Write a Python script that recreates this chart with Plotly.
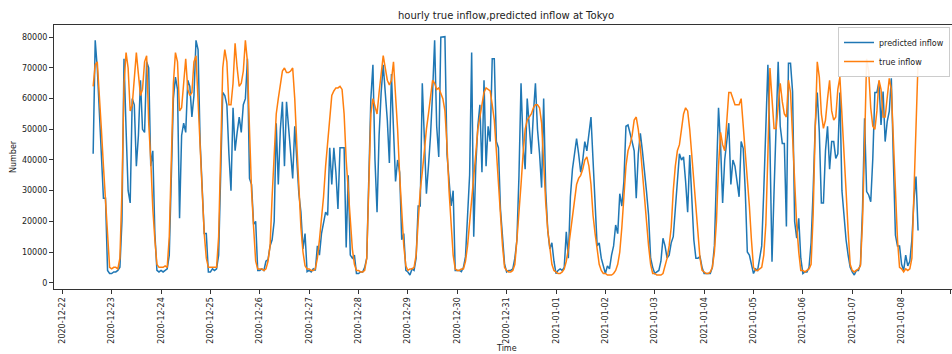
import pandas as pd
import plotly.graph_objects as go

# ---------------- data (values in thousands, hourly) ----------------
start_time = "2020-12-22 15:00"

true_inflow_k = [
    64, 71, 72, 62, 50, 38, 26, 13, 5,
    4.5, 5, 5, 4.5, 8, 30, 65, 75, 70, 56, 58, 68, 75, 68, 61, 63, 72, 74, 52, 40, 24, 14, 6, 5,
    5, 5, 5.5, 5, 15, 40, 65, 75, 72, 56, 57, 65, 73, 63, 61, 62, 72, 74, 58, 45, 30, 16, 8, 5,
    5, 5, 5, 5, 15, 45, 70, 76, 72, 58, 58, 65, 78, 70, 64, 65, 69, 79, 72, 50, 30, 18, 7, 4.5,
    4.5, 4.5, 4, 4.5, 7, 12, 28, 42, 55, 60, 65, 69, 70, 68.5, 68.5, 69, 70, 60, 45, 32, 18, 10, 5.5, 4.5,
    4.5, 4, 4, 4.5, 8, 14, 20, 28, 38, 46, 54, 61, 62.5, 63.5, 63.5, 64, 63, 55, 40, 30, 18, 11, 6, 4,
    4, 3.5, 3.5, 4, 8, 30, 55, 60, 57, 55, 62, 68, 74, 70, 66, 64.5, 66, 72, 62, 50, 35, 22, 12, 5.5,
    4, 4.5, 4.5, 5, 9, 20, 30, 36, 44, 50, 55, 60, 66, 65, 63, 63.5, 62, 60, 56, 45, 30, 20, 9, 4.5,
    4, 4, 4.5, 4.5, 7, 12, 19, 27, 35, 42, 50, 54, 58, 62, 63.5, 63, 62.5, 58, 53, 43, 32, 22, 12, 5,
    4, 3.5, 3.5, 4, 6, 14, 22, 32, 42, 50, 53, 54, 55, 57, 58, 58, 57, 52, 38, 26, 17, 11, 6, 4,
    3.5, 3, 3, 3.5, 4.5, 7, 11, 16, 21, 27, 32, 34, 35, 37, 40, 41, 38, 32, 22, 16, 11, 6, 4, 3,
    3, 2.5, 2.5, 2.5, 3, 4, 6, 10, 18, 28, 38, 43, 45, 48, 53, 54, 50, 44, 36, 27, 19, 12, 6, 3,
    3, 2.5, 2.5, 2.5, 3, 5.5, 8, 12, 18, 30, 38, 43, 45, 50, 55, 57, 56, 50, 41, 33, 25, 14, 8, 4,
    3.5, 3, 3, 3.5, 5, 10, 20, 38, 49, 45, 43, 52, 62, 62, 60, 58, 58, 58, 60, 52, 42, 33, 25, 14,
    5, 4, 4, 4.5, 5, 9, 19, 42, 70, 60, 50.3, 50.3, 58, 65, 59, 55, 54, 66, 62, 46, 32, 19, 10, 4,
    4, 3.5, 4, 4.5, 6, 22, 50, 72, 67, 55, 50.3, 53, 60, 66, 56, 53, 54, 63, 67, 56, 42, 30, 17, 6,
    4, 3.5, 4, 4.5, 5.5, 20, 45, 73, 69, 57, 51, 50, 56, 66, 63, 54, 54, 60, 66.6, 63, 46, 30, 14, 5,
    4.5, 3.5, 4.5, 4, 4.5, 8, 30, 52, 72,
]

predicted_inflow_k = [
    42, 79, 70, 55, 40, 27.5, 27.5, 4, 3,
    3, 3.5, 3.5, 4, 5, 20, 73, 50, 30, 26, 60, 58, 38, 48, 66, 50, 49, 72, 70, 38, 43, 16, 4, 3.5,
    4, 3.5, 4, 4.5, 9, 35, 60, 67, 63, 21, 48, 52, 49, 66, 64, 54, 61, 79, 76, 46, 32, 16, 16, 3.5,
    3.5, 4.5, 4, 4.5, 9, 40, 62, 61, 58, 42, 30, 57, 43, 49, 54, 49, 58, 60, 73, 34, 32, 19, 20, 4,
    4, 4.5, 4, 7, 7.5, 12, 14, 20, 52, 32, 50, 59, 38, 59, 51, 43, 34, 51, 40, 29, 23, 11, 16, 3.6,
    4, 3.5, 4.5, 4, 12, 9, 16, 19, 23, 22, 44, 32, 44, 36, 24, 44, 44, 44, 11.5, 35, 9, 8, 9, 3,
    3, 3.5, 3.5, 5, 8, 35, 60, 71, 40, 23, 48, 62, 71, 62, 53, 39, 68, 50, 33, 40, 36, 14, 16, 4,
    3.5, 2.5, 4.5, 4, 8, 25, 25, 65, 45, 29, 38, 48, 62, 79, 51, 41, 80, 80.2, 80.2, 42, 34, 25, 30, 4,
    4, 4, 3.6, 5, 8.5, 21, 35, 75, 15, 38, 51, 58, 36, 66, 38, 51, 46, 73, 73, 46, 44, 24, 14, 6,
    3.5, 4, 4, 4.5, 8, 14, 35, 65, 45, 37, 60, 50, 42, 55, 65, 50, 42, 31, 60, 30, 17, 11, 13, 7,
    3, 4, 4.5, 4, 5, 16.6, 8, 28, 37, 42, 47, 42, 36, 40, 46, 43, 48, 54, 40, 24, 12, 13, 8, 5.5,
    3, 5.5, 4.5, 9, 12, 18.8, 16, 29, 25, 33, 51, 51.4, 49, 46, 43, 27.5, 42, 48.7, 43, 35, 29.7, 22, 8, 5,
    3, 3.5, 4, 7, 14.5, 12, 8, 9, 13, 15, 24, 32, 42, 40, 41, 33, 23, 41.6, 28, 14, 8, 8, 8.5, 5,
    3, 3, 3, 3, 5, 12, 35, 57, 45, 26, 40, 46, 52, 32, 40, 38, 33, 28, 46, 43.8, 30, 10, 9, 6,
    3, 4.5, 4, 8, 12, 30, 50, 71, 45, 6.8, 30, 50, 72, 51, 45.4, 45.4, 18.3, 71.5, 71.5, 62.3, 20, 14.5, 21, 8,
    3, 3.5, 3.5, 5, 13, 30, 51, 62, 49, 26, 26, 43, 51, 37, 46, 46, 40.5, 42, 62, 30, 22, 14, 9, 5,
    3.5, 2.5, 4, 4, 6, 24, 53.6, 29.7, 28.6, 26.4, 40.5, 62, 62, 65.5, 51.4, 62.3, 46, 52.5, 55.8, 66.6, 40, 15.5, 12, 12,
    6, 4, 9, 5.5, 7, 14, 27, 34.6, 17,
]

tick_dates = [
    "2020-12-22", "2020-12-23", "2020-12-24", "2020-12-25", "2020-12-26",
    "2020-12-27", "2020-12-28", "2020-12-29", "2020-12-30", "2020-12-31",
    "2021-01-01", "2021-01-02", "2021-01-03", "2021-01-04", "2021-01-05",
    "2021-01-06", "2021-01-07", "2021-01-08", "2021-01-09",
]
y_ticks = [0, 10000, 20000, 30000, 40000, 50000, 60000, 70000, 80000]

# ---------------- figure ----------------
true_vals = [v * 1000 for v in true_inflow_k]
pred_vals = [v * 1000 for v in predicted_inflow_k]
t_true = pd.date_range(start_time, periods=len(true_vals), freq="h")
t_pred = pd.date_range(start_time, periods=len(pred_vals), freq="h")

FONT = "DejaVu Sans"
fig = go.Figure()
fig.add_trace(go.Scatter(x=t_pred, y=pred_vals, mode="lines", name="predicted inflow",
                         line=dict(color="#1f77b4", width=1.5)))
fig.add_trace(go.Scatter(x=t_true, y=true_vals, mode="lines", name="true inflow",
                         line=dict(color="#ff7f0e", width=1.5)))

W, H = 952, 354
ml, mr, mt, mb = 54, 0, 25, 65
pw, ph = W - ml - mr, H - mt - mb

fig.update_layout(
    width=W, height=H,
    margin=dict(l=ml, r=mr, t=mt, b=mb, pad=0, autoexpand=False),
    paper_bgcolor="white", plot_bgcolor="white",
    font=dict(family=FONT, size=8, color="#222"),
    showlegend=True,
    legend=dict(x=(838 - ml) / pw, y=1 - 2 / ph, xanchor="left", yanchor="top",
                bgcolor="rgba(255,255,255,0.9)", bordercolor="#cccccc", borderwidth=1,
                itemwidth=30,
                font=dict(family=FONT, size=8, color="#222"), tracegroupgap=0),
    hovermode=False,
)
fig.update_xaxes(
    type="date",
    range=["2020-12-21 19:58", "2021-01-09 00:30"],
    tickvals=tick_dates, ticktext=tick_dates, tickangle=-90,
    ticks="outside", ticklen=4, tickcolor="#333", tickwidth=1,
    showline=True, linecolor="#333", linewidth=1, mirror=True,
    showgrid=False, zeroline=False, automargin=False,
    tickfont=dict(family=FONT, size=8, color="#222"),
)
fig.update_yaxes(
    range=[-2050, 84000],
    tickvals=y_ticks, tickformat="d",
    ticks="outside", ticklen=4, tickcolor="#333", tickwidth=1,
    showline=True, linecolor="#333", linewidth=1, mirror=True,
    showgrid=False, zeroline=False, automargin=False,
    tickfont=dict(family=FONT, size=8, color="#222"),
)
fig.add_annotation(text="hourly true inflow,predicted inflow at Tokyo", xref="paper", yref="paper",
                   x=(506 - ml) / pw, y=1 + (mt - 15) / ph, xanchor="center", yanchor="middle",
                   showarrow=False, font=dict(family=FONT, size=10, color="#222"))
fig.add_annotation(text="Time", xref="paper", yref="paper",
                   x=(506 - ml) / pw, y=-(348 - (H - mb)) / ph, xanchor="center", yanchor="middle",
                   showarrow=False, font=dict(family=FONT, size=8, color="#222"))
fig.add_annotation(text="Number", xref="paper", yref="paper", textangle=-90,
                   x=-(ml - 13) / pw, y=0.5, xanchor="center", yanchor="middle",
                   showarrow=False, font=dict(family=FONT, size=8, color="#222"))

fig.write_html("out.html", config={"displayModeBar": False},
               post_script="document.body.style.margin='0px';document.body.style.overflow='hidden';")
